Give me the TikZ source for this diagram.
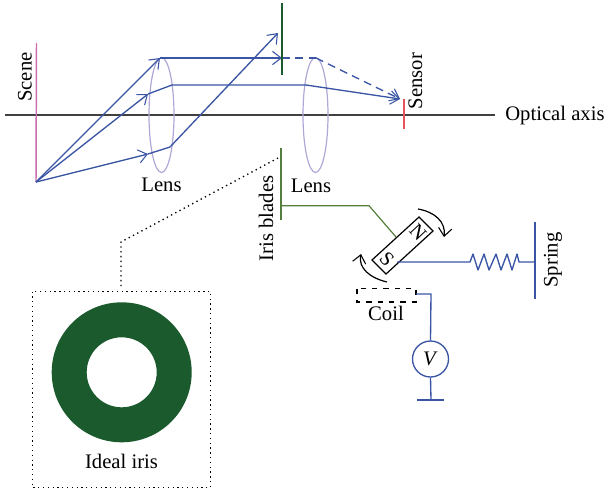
\documentclass[tikz,border=0pt]{standalone}
\usepackage{fontspec}
\setmainfont{Liberation Serif}
\usetikzlibrary{arrows.meta,calc,shapes.geometric}
\definecolor{rayblue}{HTML}{3A55A4}
\definecolor{lensc}{HTML}{AFA8D6}
\definecolor{irisg}{HTML}{1B5A2C}
\definecolor{linkg}{HTML}{557F3C}
\definecolor{scenec}{HTML}{C86DAE}
\definecolor{sensorc}{HTML}{E8505B}
\tikzset{
 x=0.75pt,y=-0.75pt,
 lbl/.style={inner sep=0pt,font=\fontsize{15.5}{17}\selectfont},
 ray/.style={draw=rayblue,line width=1pt},
 rayhead/.style={ray,-{Straight Barb[length=6.5pt,width=10pt,line width=0.8pt]}},
 wire/.style={draw=rayblue,line width=1pt},
 lensel/.style={draw=lensc,line width=0.9pt,ellipse,minimum width=18.75pt,minimum height=86.25pt,inner sep=0pt},
 irisline/.style={draw=irisg,line width=1pt},
 dots/.style={draw=black,line width=1pt,dash pattern=on 1pt off 2.6pt},
 swing/.style={draw=black,line width=0.9pt,-{Straight Barb[length=6pt,width=10pt,line width=0.8pt]}}
}
\begin{document}
\begin{tikzpicture}
\useasboundingbox (0,0) rectangle (606,490);
% named points
\coordinate (src) at (36,182);
\coordinate (sceneT) at (36.5,43);
\coordinate (axisL) at (5,115);
\coordinate (axisR) at (495,115);
\coordinate (r1a) at (160,58);
\coordinate (r1b) at (282,58);
\coordinate (r1c) at (316,58);
\coordinate (r2a) at (148,94);
\coordinate (r2b) at (172,85);
\coordinate (r2c) at (306,85);
\coordinate (r3a) at (148,154);
\coordinate (r3b) at (170,147);
\coordinate (r3c) at (278,33);
\coordinate (sens) at (400,99);
% axis and scene
\draw[draw=black!75,line width=1pt] (axisL) -- (axisR);
\draw[draw=scenec,line width=1.1pt] (sceneT) -- (src);
% lenses
\node[lensel] (lensA) at (161.5,115) {};
\node[lensel] (lensB) at (315.5,115) {};
% rays
\draw[rayhead] (src) -- (r1a);
\draw[rayhead] (r1a) -- (r1b);
\draw[ray,dash pattern=on 6pt off 4pt] (r1b) -- (r1c);
\draw[rayhead,dash pattern=on 6pt off 4pt] (r1c) -- (sens);
\draw[rayhead] (src) -- (r2a);
\draw[ray] (r2a) -- (r2b) -- (r2c);
\draw[rayhead] (r2c) -- (sens);
\draw[rayhead] (src) -- (r3a);
\draw[ray] (r3a) -- (r3b);
\draw[rayhead] (r3b) -- (r3c);
% iris
\coordinate (irisT1) at (282,3);
\coordinate (irisT2) at (282,75);
\coordinate (irisB1) at (281,148);
\coordinate (irisB2) at (281,220);
\coordinate (link1) at (281,205.7);
\coordinate (link2) at (369,205.7);
\coordinate (link3) at (396,237);
\draw[irisline] (irisT1) -- (irisT2);
\draw[draw=linkg,line width=1pt] (irisB1) -- (irisB2);
\draw[draw=linkg,line width=0.9pt] (link1) -- (link2) -- (link3);
% sensor
\draw[draw=sensorc,line width=1pt] (404,99) -- (404,129);
% magnet
\coordinate (m1) at (372,260);
\coordinate (m2) at (419,217);
\coordinate (m3) at (433,231);
\coordinate (m4) at (386,274);
\draw[black,line width=0.9pt] (m1) -- (m2) -- (m3) -- (m4) -- cycle;
\node[lbl,rotate=-47,font=\fontsize{15}{16}\selectfont] (magS) at (387,259) {S};
\node[lbl,rotate=-47,font=\fontsize{15}{16}\selectfont] (magN) at (418,232) {N};
\draw[swing] (418,209) .. controls (435,212) and (446,222) .. (444,237);
\draw[swing] (387,282) .. controls (370,278) and (358,268) .. (361,254);
% spring
\coordinate (sp0) at (397,262);
\coordinate (sp1) at (470,262);
\coordinate (sp2) at (519,262);
\coordinate (sp3) at (535,262);
\draw[wire,line join=round] (sp0) -- (sp1) -- (473,254) -- (478,270) -- (484,254) -- (489,270) -- (496,254) -- (501,270) -- (507,254) -- (512,270) -- (517,254) -- (sp2) -- (sp3);
\draw[wire,line width=1.2pt] (535,222) -- (535,299);
% coil
\draw[black,line width=0.8pt,dash pattern=on 4pt off 4.5pt] (357,288.5) rectangle (416,302);
\node[circle,draw=rayblue,line width=1pt,minimum size=27pt,inner sep=0pt,lbl] (volt) at (430.5,359) {\textit{V}};
\coordinate (coilR) at (416,294);
\coordinate (coilC) at (431,294);
\coordinate (gnd) at (431,400);
\draw[wire] (coilR) -- (coilC) -- (volt.north);
\draw[wire] (volt.south) -- (gnd);
\draw[wire] (417,400) -- (444,400);
% iris inset
\draw[dots] (278,158) -- (121,242) -- (121,288);
\draw[dots] (32.5,291.5) rectangle (210.5,487.5);
\fill[irisg,even odd rule] (121.7,372.3) circle[radius=70] (121.7,372.3) circle[radius=35];
% labels
\node[lbl,rotate=90] (tScene) at (25,77) {Scene};
\node[lbl,rotate=90] (tSensor) at (415.5,81) {Sensor};
\node[lbl,anchor=west] (tAxis) at (505,116) {Optical axis};
\node[lbl] (tLens1) at (161.5,185) {Lens};
\node[lbl] (tLens2) at (311,186) {Lens};
\node[lbl,rotate=90] (tIris) at (266,218.5) {Iris blades};
\node[lbl] (tCoil) at (386,313) {Coil};
\node[lbl,rotate=90] (tSpring) at (553,260) {Spring};
\node[lbl] (tIdeal) at (121.5,461) {Ideal iris};
\end{tikzpicture}
\end{document}
